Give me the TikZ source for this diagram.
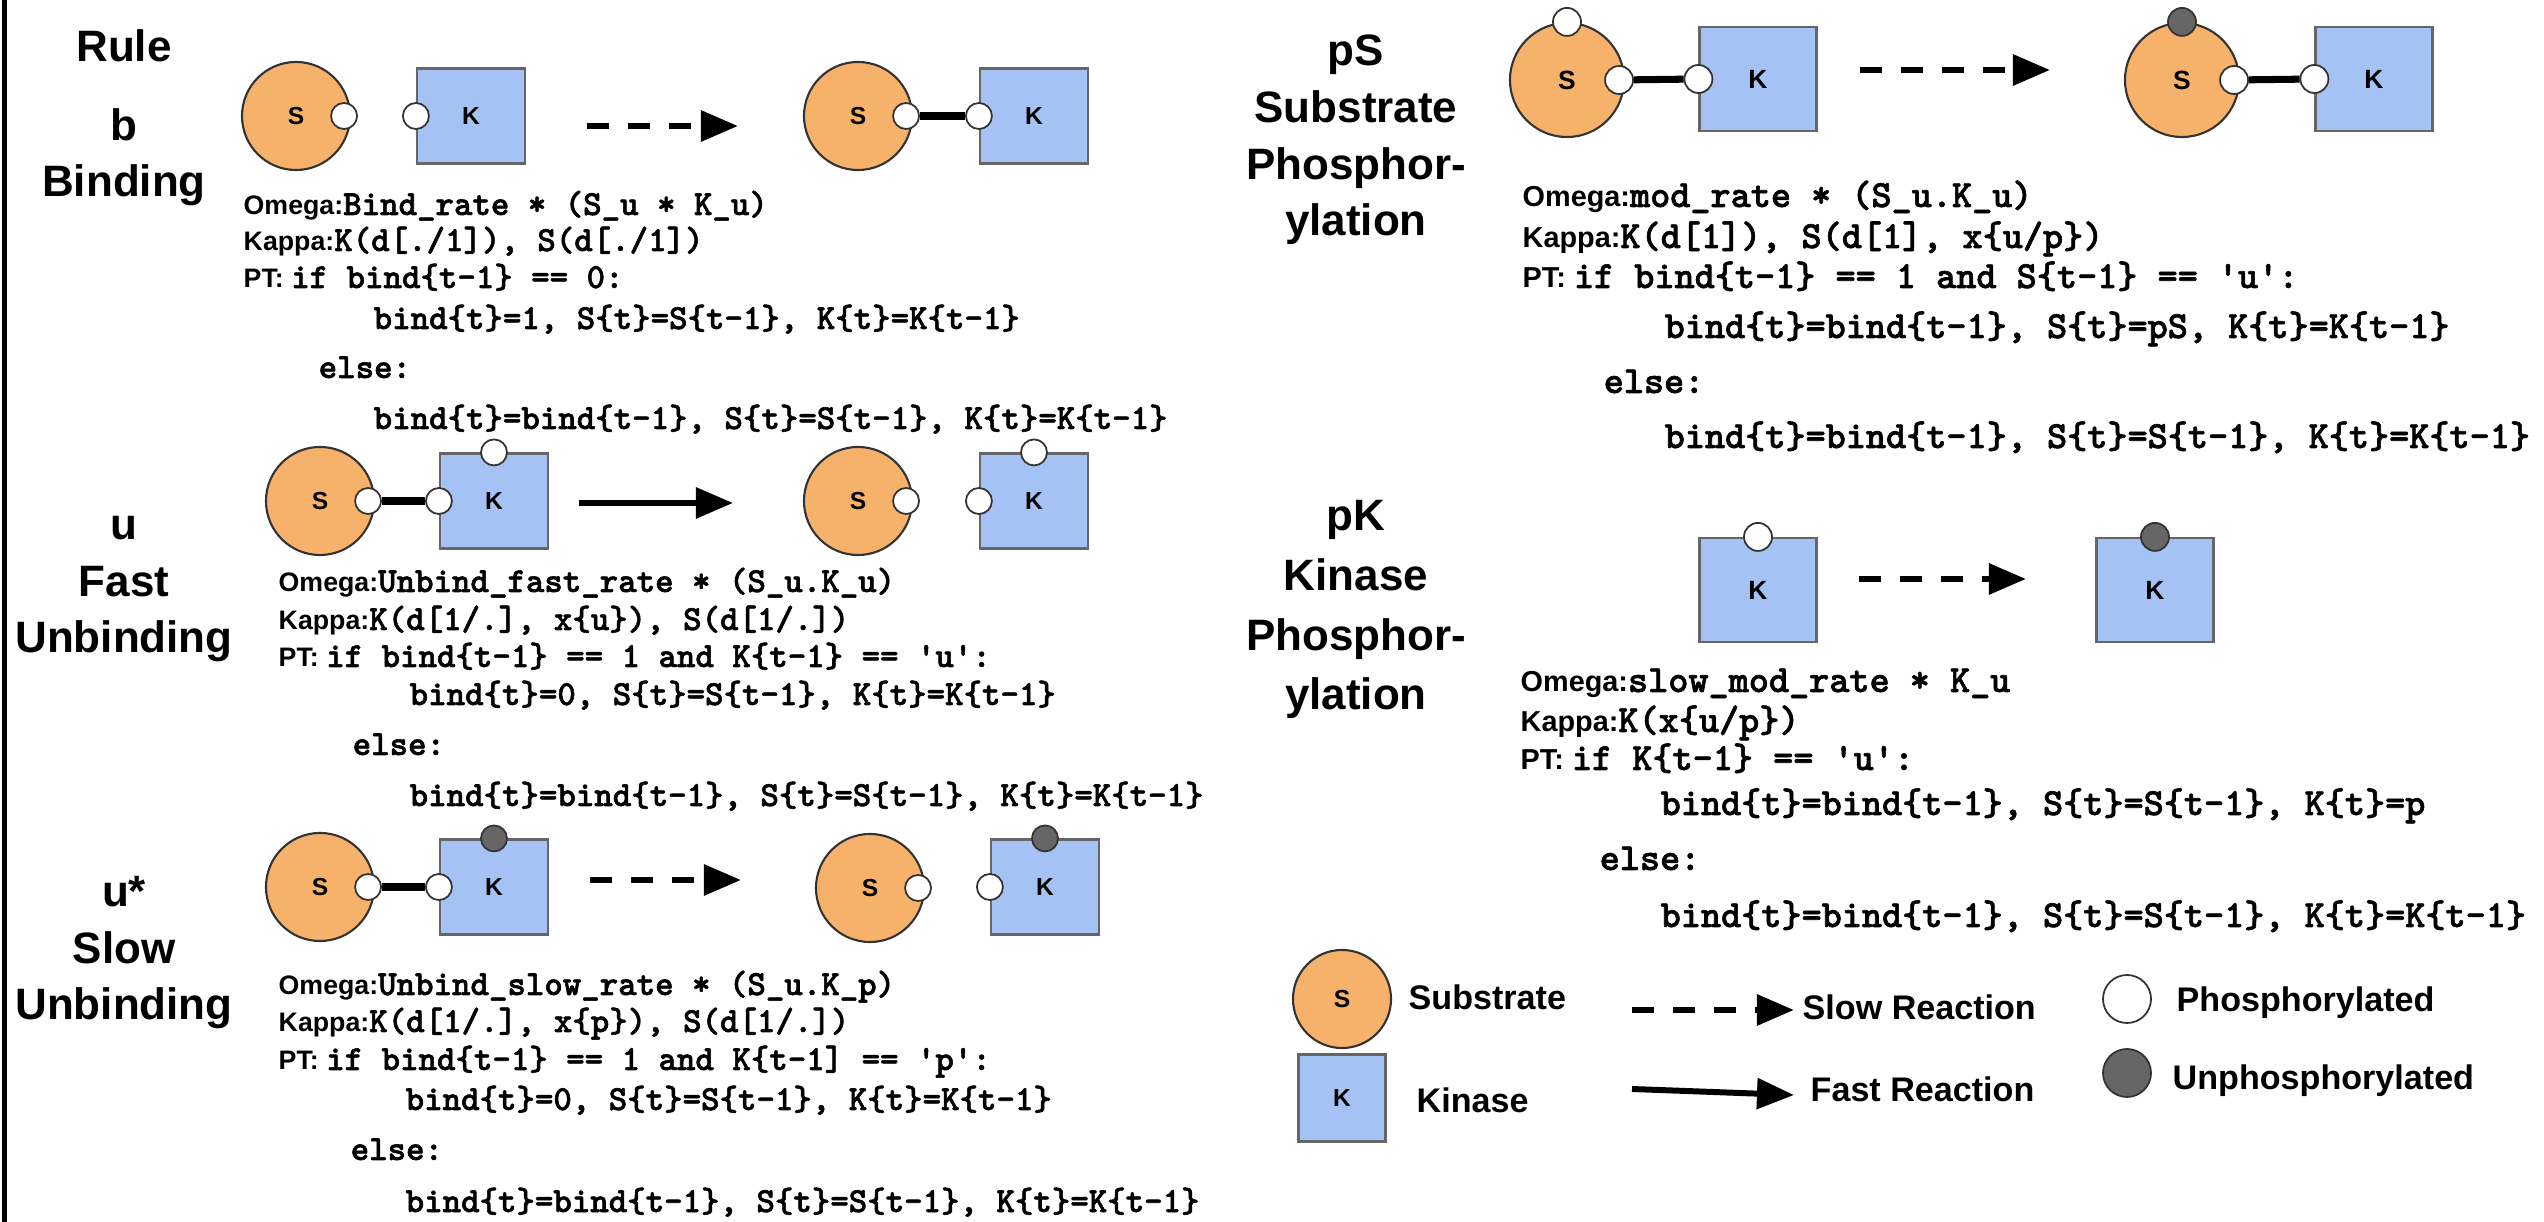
\documentclass[tikz,border=0pt]{standalone}
\usepackage{fontspec}
\setsansfont{Liberation Sans}
\newfontfamily\codefont{lmmonolt10-bold.otf}[FakeBold=1.6]
\usepackage{tikz}
\usetikzlibrary{arrows.meta,positioning}
\definecolor{sorange}{RGB}{246,178,107}
\definecolor{kblue}{RGB}{164,194,244}
\definecolor{dotgray}{RGB}{102,102,102}
\newcommand{\keyw}[1]{{\sffamily\bfseries\fontsize{7.6}{8}\selectfont #1}}
\newcommand{\keywR}[1]{{\sffamily\bfseries\fontsize{8.2}{9}\selectfont #1}}
\newcommand{\q}{\textquotesingle}

\begin{document}
\begin{tikzpicture}[x=0.01cm,y=-0.01cm,
  subs/.style={circle,draw=black!80,line width=0.6pt,fill=sorange,minimum size=1.08cm,inner sep=0pt,font=\sffamily\bfseries\fontsize{7}{8}\selectfont},
  subsR/.style={subs,minimum size=1.14cm,font=\sffamily\bfseries\fontsize{7.5}{8}\selectfont},
  kin/.style={rectangle,draw=black!60,line width=0.6pt,fill=kblue,minimum width=1.08cm,minimum height=0.95cm,inner sep=0pt,font=\sffamily\bfseries\fontsize{7}{8}\selectfont},
  kinR/.style={kin,minimum width=1.17cm,minimum height=1.04cm,font=\sffamily\bfseries\fontsize{7.5}{8}\selectfont},
  pdot/.style={circle,draw=black!80,line width=0.5pt,fill=white,minimum size=0.26cm,inner sep=0pt},
  udot/.style={pdot,fill=dotgray},
  pdotR/.style={pdot,minimum size=0.28cm},
  udotR/.style={pdotR,fill=dotgray},
  bond/.style={line width=2pt},
  slow/.style={line width=1.7pt,dash pattern=on 0.22cm off 0.19cm,-{Triangle[length=0.37cm,width=0.3cm]}},
  fast/.style={line width=1.7pt,-{Triangle[length=0.37cm,width=0.3cm]}},
  rulename/.style={font=\sffamily\bfseries\fontsize{12.5}{16.2}\selectfont,align=center,anchor=base,inner sep=0pt},
  codeline/.style={anchor=base west,inner sep=0pt,font=\codefont\fontsize{10}{11}\selectfont},
  codelineR/.style={codeline,font=\codefont\fontsize{10.9}{12}\selectfont},
  legtext/.style={anchor=base west,inner sep=0pt,font=\sffamily\bfseries\fontsize{9.7}{11}\selectfont}]
\useasboundingbox (0,0) rectangle (2544,1222);
\draw[line width=0.05cm] (4.5,0) -- (4.5,1222);

% titles (anchored on the last line)
\node[rulename] (trule) at (124,62) {Rule};
\node[rulename] (tb) at (124,197) {b\\Binding};
\node[rulename] (tu) at (124,653) {u\\Fast\\Unbinding};
\node[rulename] (tus) at (124,1020) {u*\\Slow\\Unbinding};
\node[rulename] (tps) at (1356,236) {pS\\Substrate\\Phosphor-\\ylation};
\node[rulename,font=\sffamily\bfseries\fontsize{12.5}{17}\selectfont] (tpk) at (1356,710) {pK\\Kinase\\Phosphor-\\ylation};

% b: binding
\node[subs] (bs1) at (296,116) {S};
\node[pdot,xshift=-0.07cm] (bs1d) at (bs1.east) {};
\node[kin] (bk1) at (471,116) {K};
\node[pdot] (bk1d) at (bk1.west) {};
\coordinate (ba1) at (587,126);
\coordinate (ba2) at (738,126);
\draw[slow] (ba1) -- (ba2);
\node[subs] (bs2) at (858,116) {S};
\node[pdot,xshift=-0.07cm] (bs2d) at (bs2.east) {};
\node[kin] (bk2) at (1034,116) {K};
\node[pdot] (bk2d) at (bk2.west) {};
\draw[bond] (bs2d) -- (bk2d);
\node[codeline] (bl1) at (243,215) {\keyw{Omega:}Bind\_rate * (S\_u * K\_u)};
\node[codeline] (bl2) at (243,251) {\keyw{Kappa:}K(d[./1]), S(d[./1])};
\node[codeline] (bl3) at (243,288) {\keyw{PT: }if bind\{t-1\} == 0:};
\node[codeline] (bl4) at (373,329) {bind\{t\}=1, S\{t\}=S\{t-1\}, K\{t\}=K\{t-1\}};
\node[codeline] (bl5) at (318,378) {else:};
\node[codeline] (bl6) at (373,429) {bind\{t\}=bind\{t-1\}, S\{t\}=S\{t-1\}, K\{t\}=K\{t-1\}};

% u: fast unbinding
\node[subs] (us1) at (320,501) {S};
\node[pdot,xshift=-0.07cm] (us1d) at (us1.east) {};
\node[kin] (uk1) at (494,501) {K};
\node[pdot] (uk1d) at (uk1.west) {};
\node[pdot] (uk1p) at (uk1.north) {};
\draw[bond] (us1d) -- (uk1d);
\coordinate (ua1) at (579,503);
\coordinate (ua2) at (733,503);
\draw[fast] (ua1) -- (ua2);
\node[subs] (us2) at (858,501) {S};
\node[pdot,xshift=-0.07cm] (us2d) at (us2.east) {};
\node[kin] (uk2) at (1034,501) {K};
\node[pdot] (uk2d) at (uk2.west) {};
\node[pdot] (uk2p) at (uk2.north) {};
\node[codeline] (ul1) at (278,592) {\keyw{Omega:}Unbind\_fast\_rate * (S\_u.K\_u)};
\node[codeline] (ul2) at (278,630) {\keyw{Kappa:}K(d[1/.], x\{u\}), S(d[1/.])};
\node[codeline] (ul3) at (278,667) {\keyw{PT: }if bind\{t-1\} == 1 and K\{t-1\} == \q u\q:};
\node[codeline] (ul4) at (409,705) {bind\{t\}=0, S\{t\}=S\{t-1\}, K\{t\}=K\{t-1\}};
\node[codeline] (ul5) at (352,755) {else:};
\node[codeline] (ul6) at (409,806) {bind\{t\}=bind\{t-1\}, S\{t\}=S\{t-1\}, K\{t\}=K\{t-1\}};

% u*: slow unbinding
\node[subs] (ws1) at (320,887) {S};
\node[pdot,xshift=-0.07cm] (ws1d) at (ws1.east) {};
\node[kin] (wk1) at (494,887) {K};
\node[pdot] (wk1d) at (wk1.west) {};
\node[udot] (wk1p) at (wk1.north) {};
\draw[bond] (ws1d) -- (wk1d);
\coordinate (wa1) at (590,880);
\coordinate (wa2) at (741,880);
\draw[slow] (wa1) -- (wa2);
\node[subs] (ws2) at (870,888) {S};
\node[pdot,xshift=-0.07cm] (ws2d) at (ws2.east) {};
\node[kin] (wk2) at (1045,887) {K};
\node[pdot] (wk2d) at (wk2.west) {};
\node[udot] (wk2p) at (wk2.north) {};
\node[codeline] (wl1) at (278,995) {\keyw{Omega:}Unbind\_slow\_rate * (S\_u.K\_p)};
\node[codeline] (wl2) at (278,1032) {\keyw{Kappa:}K(d[1/.], x\{p\}), S(d[1/.])};
\node[codeline] (wl3) at (278,1070) {\keyw{PT: }if bind\{t-1\} == 1 and K\{t-1] == \q p\q:};
\node[codeline] (wl4) at (405,1110) {bind\{t\}=0, S\{t\}=S\{t-1\}, K\{t\}=K\{t-1\}};
\node[codeline] (wl5) at (350,1160) {else:};
\node[codeline] (wl6) at (405,1212) {bind\{t\}=bind\{t-1\}, S\{t\}=S\{t-1\}, K\{t\}=K\{t-1\}};

% pS: substrate phosphorylation
\node[subsR] (ps1) at (1567,80) {S};
\node[pdotR] (ps1p) at (ps1.north) {};
\node[pdotR,xshift=-0.06cm] (ps1d) at (ps1.east) {};
\node[kinR] (pk1) at (1758,79) {K};
\node[pdotR] (pk1d) at (pk1.west) {};
\draw[bond] (ps1d) -- (pk1d);
\coordinate (pa1) at (1860,70);
\coordinate (pa2) at (2050,70);
\draw[slow] (pa1) -- (pa2);
\node[subsR] (ps2) at (2182,80) {S};
\node[udotR] (ps2p) at (ps2.north) {};
\node[pdotR,xshift=-0.06cm] (ps2d) at (ps2.east) {};
\node[kinR] (pk2) at (2374,79) {K};
\node[pdotR] (pk2d) at (pk2.west) {};
\draw[bond] (ps2d) -- (pk2d);
\node[codelineR] (pl1) at (1522,207) {\keywR{Omega:}mod\_rate * (S\_u.K\_u)};
\node[codelineR] (pl2) at (1522,248) {\keywR{Kappa:}K(d[1]), S(d[1], x\{u/p\})};
\node[codelineR] (pl3) at (1522,288) {\keywR{PT: }if bind\{t-1\} == 1 and S\{t-1\} == \q u\q:};
\node[codelineR] (pl4) at (1664,338) {bind\{t\}=bind\{t-1\}, S\{t\}=pS, K\{t\}=K\{t-1\}};
\node[codelineR] (pl5) at (1603,393) {else:};
\node[codelineR] (pl6) at (1664,448) {bind\{t\}=bind\{t-1\}, S\{t\}=S\{t-1\}, K\{t\}=K\{t-1\}};

% pK: kinase phosphorylation
\node[kinR] (qk1) at (1758,590) {K};
\node[pdotR] (qk1p) at (qk1.north) {};
\coordinate (qa1) at (1859,579);
\coordinate (qa2) at (2026,579);
\draw[slow] (qa1) -- (qa2);
\node[kinR] (qk2) at (2155,590) {K};
\node[udotR] (qk2p) at (qk2.north) {};
\node[codelineR] (ql1) at (1520,692) {\keywR{Omega:}slow\_mod\_rate * K\_u};
\node[codelineR] (ql2) at (1520,732) {\keywR{Kappa:}K(x\{u/p\})};
\node[codelineR] (ql3) at (1520,770) {\keywR{PT: }if K\{t-1\} == \q u\q:};
\node[codelineR] (ql4) at (1660,815) {bind\{t\}=bind\{t-1\}, S\{t\}=S\{t-1\}, K\{t\}=p};
\node[codelineR] (ql5) at (1599,870) {else:};
\node[codelineR] (ql6) at (1660,927) {bind\{t\}=bind\{t-1\}, S\{t\}=S\{t-1\}, K\{t\}=K\{t-1\}};

% legend
\node[subs,minimum size=0.98cm] (ls) at (1342,999) {S};
\node[legtext] (lst) at (1408,1010) {Substrate};
\node[kin,minimum width=0.87cm,minimum height=0.87cm] (lk) at (1342,1098) {K};
\node[legtext] (lkt) at (1416,1113) {Kinase};
\coordinate (la1) at (1632,1010);
\coordinate (la2) at (1794,1010);
\draw[slow] (la1) -- (la2);
\node[legtext] (lat) at (1802,1020) {Slow Reaction};
\coordinate (lb1) at (1632,1089);
\coordinate (lb2) at (1794,1095);
\draw[fast] (lb1) -- (lb2);
\node[legtext] (lbt) at (1810,1102) {Fast Reaction};
\node[pdot,minimum size=0.48cm] (lp) at (2127,999) {};
\node[legtext] (lpt) at (2176,1012) {Phosphorylated};
\node[udot,minimum size=0.48cm] (lu) at (2127,1073) {};
\node[legtext] (lut) at (2172,1090) {Unphosphorylated};
\end{tikzpicture}
\end{document}
